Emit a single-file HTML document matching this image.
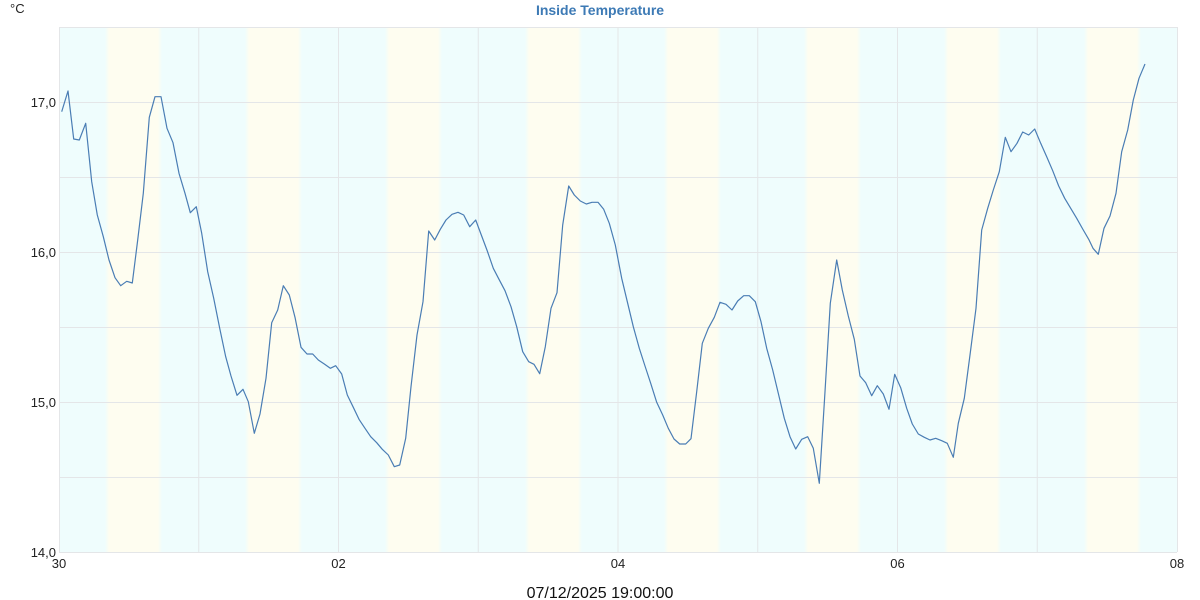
<!DOCTYPE html>
<html><head><meta charset="utf-8"><style>
html,body{margin:0;padding:0;background:#fff;}
svg{display:block;}
text{font-family:"Liberation Sans",sans-serif;}
</style></head><body>
<svg width="1200" height="600" viewBox="0 0 1200 600" xmlns="http://www.w3.org/2000/svg">
<defs>
<linearGradient id="yb" x1="0" y1="0" x2="1" y2="0">
<stop offset="0" stop-color="#effdfd"/>
<stop offset="0.07" stop-color="#fefdf0"/>
<stop offset="0.93" stop-color="#fefdf0"/>
<stop offset="1" stop-color="#effdfd"/>
</linearGradient>
</defs>
<rect x="59" y="27" width="1118" height="525" fill="#effdfd"/>
<g fill="url(#yb)">
<rect x="105" y="27" width="57" height="525"/>
<rect x="245" y="27" width="57" height="525"/>
<rect x="385" y="27" width="57" height="525"/>
<rect x="525" y="27" width="57" height="525"/>
<rect x="664" y="27" width="57" height="525"/>
<rect x="804" y="27" width="57" height="525"/>
<rect x="944" y="27" width="57" height="525"/>
<rect x="1084" y="27" width="57" height="525"/>
</g>
<g stroke="#e4e6e8" stroke-width="1">
<line x1="59" y1="27.5" x2="1177" y2="27.5"/>
<line x1="59" y1="102.5" x2="1177" y2="102.5"/>
<line x1="59" y1="177.5" x2="1177" y2="177.5"/>
<line x1="59" y1="252.5" x2="1177" y2="252.5"/>
<line x1="59" y1="327.5" x2="1177" y2="327.5"/>
<line x1="59" y1="402.5" x2="1177" y2="402.5"/>
<line x1="59" y1="477.5" x2="1177" y2="477.5"/>
<line x1="59" y1="552.5" x2="1177" y2="552.5"/>
<line x1="59.5" y1="27" x2="59.5" y2="552"/>
<line x1="198.75" y1="27" x2="198.75" y2="552"/>
<line x1="338.5" y1="27" x2="338.5" y2="552"/>
<line x1="478.25" y1="27" x2="478.25" y2="552"/>
<line x1="618" y1="27" x2="618" y2="552"/>
<line x1="757.75" y1="27" x2="757.75" y2="552"/>
<line x1="897.5" y1="27" x2="897.5" y2="552"/>
<line x1="1037.25" y1="27" x2="1037.25" y2="552"/>
<line x1="1177.5" y1="27" x2="1177.5" y2="552"/>
</g>
<polyline fill="none" stroke="#4a7db4" stroke-width="1.2" stroke-linejoin="round" points="
61.7,111.7 68,91 73.7,139 79.3,140 85.7,123.3 91.7,181.7 97.3,215 103.3,236.7 109,260 115,277.7 120.7,285.7 126.7,281.3 132.3,283 137.7,240 143.3,193.3 149.3,117.3 155,96.7 161,96.7 167,128.3 173,142.7 179,173.3 185,193.3 190.3,212.7 196.3,206.7 201.7,233.3 207.7,271.7 213.7,298.3 219.7,328.3 225.7,356.7 231,376 237,395.3 243,389.3 248.3,401.7 254.3,433.3 260,414 266,378.3 271.7,322.7 277.7,310 283.3,285.7 289.3,295 295,317.3 301,347.3 307,354 312.7,354 318.3,360 324.3,364 330.3,368.3 335.7,365.7 341.7,374 347.3,395 353.3,407.3 359,419.3 365,428.3 370.7,436.7 376.7,442.7 382.3,449.3 388.3,455 394.3,466.7 399.7,465 405.7,438.3 411,386.7 417,335 423,301.7 428.7,231 434.7,240 440.3,229.3 446,220 452,214.3 458,212.3 463.7,215 469.7,226.7 475.7,220 481.3,235 487.3,251 493.3,268.3 499,279.3 505,290.7 511,306.7 516.7,326.7 522.7,351.7 528.7,361.7 534,364.3 539.7,373.7 545.3,346.7 551,308.3 557,292.7 562.7,225 568.7,186 574.3,195 580.3,201 586.3,204 592,202.3 598,202.3 603.7,209.3 609.3,223.3 615.3,245 621.7,278.3 627.3,301.7 633.3,326.7 639.3,348.3 645,366 650.7,383.3 656.7,402.3 662.7,415 668.3,428.3 674,439 679.7,444 685.7,444 691,438.7 696.7,391.7 702.3,343.3 708.3,328.3 714.3,317.3 720,302.3 726,304.3 732,310 737.7,301 743.7,295.7 749.3,295.7 755.3,301.7 761,321.7 766.7,348.3 772.7,370 778.7,395 784.3,418.3 790,436.7 795.7,449 801.7,439.3 807.7,436.7 813.3,448.3 819.3,483.3 825,391.7 830.3,303.3 836.7,260 842.3,290 848.3,316 854.3,339.3 860,376 865.7,382.7 871.7,395.7 877.3,385.7 883.3,394 889,409.3 894.7,374.3 900.7,387.7 906.7,408.3 912.3,424 918.3,434 924.3,437.3 930,440 935.7,438.3 941.7,440.7 947.3,443.3 953.3,457.3 958.3,423.3 964.3,398.3 970,355 976,308.3 981.7,230 987.7,208.3 993.3,190 999.3,171.7 1005.3,137.3 1011,151.7 1017,143.3 1022.7,132 1028.7,135 1034.7,129 1040.7,143.3 1046.7,156.7 1052.7,170.7 1058.7,186 1064.7,198.3 1070.7,208.3 1076.7,218.3 1082.7,229 1088.7,239.3 1093,248.3 1098.3,254.3 1104,228.3 1110,216 1116,193.3 1121.7,151.7 1127.7,130 1133.3,100 1139,78.3 1145,64"/>
<text x="600" y="15" text-anchor="middle" font-size="14" font-weight="bold" fill="#3d7ab5">Inside Temperature</text>
<text x="10" y="13" font-size="13" fill="#222">°C</text>
<g font-size="13" fill="#222" text-anchor="end">
<text x="56" y="107">17,0</text>
<text x="56" y="257">16,0</text>
<text x="56" y="407">15,0</text>
<text x="56" y="557">14,0</text>
</g>
<g font-size="13" fill="#222" text-anchor="middle">
<text x="59" y="568">30</text>
<text x="338.5" y="568">02</text>
<text x="618" y="568">04</text>
<text x="897.5" y="568">06</text>
<text x="1177" y="568">08</text>
</g>
<text x="600" y="598" text-anchor="middle" font-size="16" fill="#111">07/12/2025 19:00:00</text>
</svg>
</body></html>
